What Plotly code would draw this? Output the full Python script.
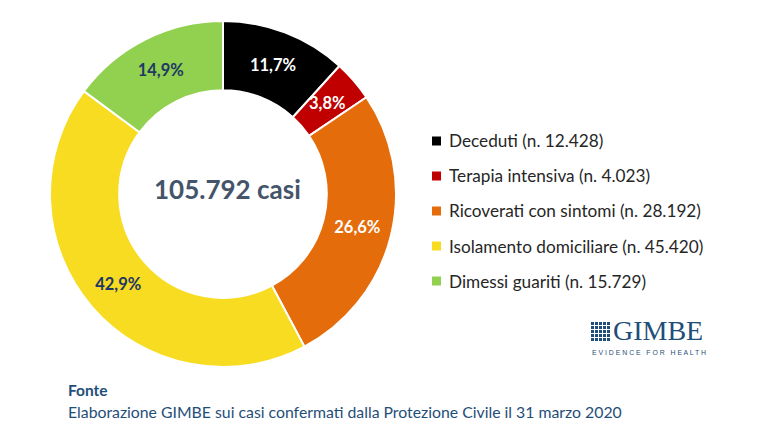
import math
import plotly.graph_objects as go

categories = ["Deceduti", "Terapia intensiva", "Ricoverati con sintomi",
              "Isolamento domiciliare", "Dimessi guariti"]
values = [12428, 4023, 28192, 45420, 15729]
pct_labels = ["11,7%", "3,8%", "26,6%", "42,9%", "14,9%"]
count_labels = ["12.428", "4.023", "28.192", "45.420", "15.729"]
colors = ["#000000", "#C00000", "#E46C0A", "#F7DC22", "#92D050"]
text_colors = ["#FFFFFF", "#FFFFFF", "#FFFFFF", "#1F3864", "#1F3864"]
total_label = "105.792 casi"

W, H = 767, 448
FONT = "Lato"
PCT_SIZE = 16.5
HOLE = 0.6
px0, px1, py0, py1 = 50, 396, 21, 367  # pie domain in pixels

# the thin slice keeps full-size text (drawn at its slice centroid)
small = [i for i, v in enumerate(values) if v / sum(values) < 0.05]
textpos = ["none" if i in small else "inside" for i in range(len(values))]

fig = go.Figure()
fig.add_trace(go.Pie(
    labels=categories, values=values, text=pct_labels,
    texttemplate="<b>%{text}</b>", textinfo="text",
    textposition=textpos, insidetextorientation="horizontal",
    textfont=dict(family=FONT, size=PCT_SIZE, color=text_colors),
    marker=dict(colors=colors, line=dict(color="white", width=2)),
    hole=HOLE, sort=False, direction="clockwise", rotation=0,
    domain=dict(x=[px0 / W, px1 / W], y=[1 - py1 / H, 1 - py0 / H]),
    showlegend=False, hoverinfo="label+value+percent",
))

annotations = []
cx, cy = (px0 + px1) / 2, (py0 + py1) / 2
R = min(px1 - px0, py1 - py0) / 2
total = sum(values)
for i in small:
    frac_mid = (sum(values[:i]) + values[i] / 2) / total
    ang = frac_mid * 2 * math.pi
    rmid = R * (1 + HOLE) / 2
    x = cx + rmid * math.sin(ang)
    y = cy - rmid * math.cos(ang)
    annotations.append(dict(x=x / W, y=1 - y / H, xref="paper", yref="paper", showarrow=False,
                            xanchor="center", yanchor="middle",
                            text="<b>" + pct_labels[i] + "</b>",
                            font=dict(family=FONT, size=PCT_SIZE, color=text_colors[i])))

annotations += [
    dict(x=227 / W, y=1 - 189 / H, xref="paper", yref="paper", showarrow=False,
         xanchor="center", yanchor="middle",
         text="<b>" + total_label + "</b>", font=dict(family=FONT, size=26, color="#44546A")),
    dict(x=66 / W, y=1 - 390 / H, xref="paper", yref="paper", showarrow=False,
         xanchor="left", yanchor="middle", text="<b>Fonte</b>",
         font=dict(family=FONT, size=15.5, color="#1F4E79")),
    dict(x=66 / W, y=1 - 411 / H, xref="paper", yref="paper", showarrow=False,
         xanchor="left", yanchor="middle",
         text="Elaborazione GIMBE sui casi confermati dalla Protezione Civile il 31 marzo 2020",
         font=dict(family=FONT, size=15.8, color="#1F4E79")),
]
shapes = []
for i, (cat, cnt, col) in enumerate(zip(categories, count_labels, colors)):
    yc = 141 + 35 * i
    shapes.append(dict(type="rect", xref="paper", yref="paper",
                       x0=432 / W, x1=441 / W, y0=1 - (yc + 4.5) / H, y1=1 - (yc - 4.5) / H,
                       fillcolor=col, line=dict(width=0)))
    annotations.append(dict(x=447 / W, y=1 - yc / H, xref="paper", yref="paper",
                            showarrow=False, xanchor="left", yanchor="middle",
                            text=f"{cat} (n. {cnt})",
                            font=dict(family=FONT, size=17.2, color="#262626")))

# GIMBE logo
logo_col = "#1F4E79"
gx0, gy0, cell = 591, 322, 4
for r in range(5):
    for c in range(5):
        shapes.append(dict(type="rect", xref="paper", yref="paper",
                           x0=(gx0 + c * cell) / W, x1=(gx0 + c * cell + 3) / W,
                           y0=1 - (gy0 + r * cell + 3) / H, y1=1 - (gy0 + r * cell) / H,
                           fillcolor=logo_col, line=dict(width=0)))
annotations.append(dict(x=612 / W, y=1 - 347 / H, xref="paper", yref="paper", showarrow=False,
                        xanchor="left", yanchor="bottom", borderpad=0, text="GIMBE",
                        font=dict(family="Liberation Serif", size=28, color=logo_col)))
annotations.append(dict(x=591 / W, y=1 - 347.5 / H, xref="paper", yref="paper", showarrow=False,
                        xanchor="left", yanchor="top", borderpad=0,
                        text="E V I D E N C E   F O R   H E A L T H",
                        font=dict(family="Liberation Sans", size=6.9, color=logo_col)))

fig.update_layout(
    width=W, height=H, margin=dict(l=0, r=0, t=0, b=0),
    paper_bgcolor="white", plot_bgcolor="white",
    annotations=annotations, shapes=shapes,
)
fig.write_html("out.html")
